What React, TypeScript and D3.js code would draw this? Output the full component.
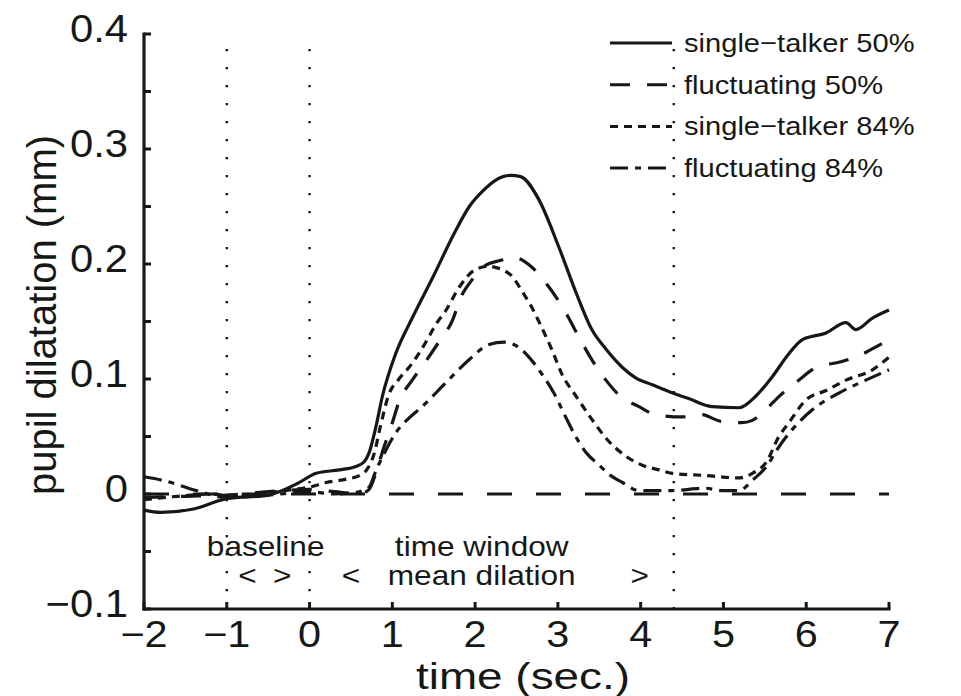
import React from 'react';
import * as d3 from 'd3';

// time (s), pupil dilation (mm)
const singleTalker50 = [
  [-2, -0.014], [-1.8, -0.016], [-1.4, -0.013], [-1, -0.004], [-0.5, -0.001], [-0.15, 0.009],
  [0.08, 0.018], [0.36, 0.021], [0.56, 0.024], [0.66, 0.028], [0.72, 0.036], [0.8, 0.058],
  [0.88, 0.085], [1.04, 0.122], [1.24, 0.153], [1.5, 0.19], [1.75, 0.227], [1.93, 0.25],
  [2.1, 0.264], [2.25, 0.273], [2.43, 0.277], [2.55, 0.276], [2.77, 0.256], [3.01, 0.215],
  [3.22, 0.175], [3.41, 0.143], [3.58, 0.126], [3.78, 0.11], [3.94, 0.101], [4.14, 0.095],
  [4.38, 0.088], [4.58, 0.083], [4.86, 0.076], [5.19, 0.075], [5.39, 0.085], [5.59, 0.102],
  [5.79, 0.122], [5.95, 0.134], [6.24, 0.14], [6.48, 0.149], [6.6, 0.143], [6.8, 0.153], [7, 0.16]
];
const fluctuating50 = [
  [-2, -0.003], [-1.5, -0.002], [-1, -0.001], [-0.5, 0.002], [0, 0.004], [0.3, 0.002],
  [0.6, 0.0], [0.72, 0.004], [0.8, 0.018], [0.9, 0.041], [1.0, 0.062], [1.08, 0.08],
  [1.24, 0.099], [1.4, 0.115], [1.56, 0.132], [1.72, 0.15], [1.84, 0.173], [1.96, 0.186],
  [2.13, 0.199], [2.3, 0.203], [2.45, 0.206], [2.69, 0.197], [2.86, 0.183], [2.98, 0.171],
  [3.1, 0.157], [3.25, 0.137], [3.4, 0.118], [3.58, 0.099], [3.74, 0.086], [3.98, 0.076],
  [4.18, 0.069], [4.5, 0.067], [4.73, 0.069], [4.98, 0.063], [5.22, 0.062], [5.35, 0.064],
  [5.49, 0.072], [5.69, 0.086], [5.91, 0.099], [6.12, 0.11], [6.42, 0.115], [6.66, 0.121],
  [6.92, 0.131], [7, 0.134]
];
const singleTalker84 = [
  [-2, -0.005], [-1.6, -0.002], [-1.2, 0.0], [-1, -0.001], [-0.5, 0.001], [-0.2, 0.004],
  [0, 0.006], [0.2, 0.01], [0.45, 0.013], [0.6, 0.016], [0.7, 0.022], [0.78, 0.035],
  [0.86, 0.06], [0.95, 0.085], [1.08, 0.1], [1.2, 0.11], [1.32, 0.122], [1.42, 0.134],
  [1.53, 0.148], [1.65, 0.16], [1.81, 0.18], [2.0, 0.195], [2.17, 0.198], [2.29, 0.196],
  [2.45, 0.189], [2.57, 0.176], [2.68, 0.163], [2.77, 0.15], [2.93, 0.125], [3.05, 0.104],
  [3.22, 0.085], [3.4, 0.066], [3.6, 0.047], [3.8, 0.034], [4.02, 0.025], [4.22, 0.021],
  [4.38, 0.018], [4.8, 0.016], [5.19, 0.014], [5.35, 0.018], [5.52, 0.028], [5.67, 0.05],
  [5.79, 0.062], [6.0, 0.082], [6.24, 0.09], [6.48, 0.099], [6.8, 0.108], [7, 0.119]
];
const fluctuating84 = [
  [-2, 0.015], [-1.78, 0.012], [-1.37, 0.003], [-1, -0.003], [-0.5, -0.001], [0, 0.002],
  [0.3, 0.0], [0.6, 0.002], [0.72, 0.006], [0.8, 0.02], [0.9, 0.035], [1.04, 0.053],
  [1.2, 0.066], [1.36, 0.076], [1.65, 0.097], [1.93, 0.117], [2.17, 0.13], [2.35, 0.132],
  [2.57, 0.125], [2.65, 0.119], [2.8, 0.105], [2.95, 0.088], [3.1, 0.066], [3.2, 0.052],
  [3.34, 0.036], [3.5, 0.025], [3.62, 0.017], [3.78, 0.01], [3.98, 0.003], [4.38, 0.003],
  [4.78, 0.005], [4.98, 0.003], [5.19, 0.003], [5.35, 0.012], [5.52, 0.024], [5.67, 0.041],
  [5.83, 0.056], [6.07, 0.073], [6.4, 0.088], [6.72, 0.099], [7, 0.108]
];

const seriesNames = ['single\u2212talker 50%', 'fluctuating 50%', 'single\u2212talker 84%', 'fluctuating 84%'];
const seriesData = [singleTalker50, fluctuating50, singleTalker84, fluctuating84];
const dashes = ['none', '20,17', '8,6', '18,7,6,7'];

const xTicks = [-2, -1, 0, 1, 2, 3, 4, 5, 6, 7];
const yMinorTicks = [-0.1, -0.05, 0, 0.05, 0.1, 0.15, 0.2, 0.25, 0.3, 0.35, 0.4];
const yLabelTicks = [-0.1, 0, 0.1, 0.2, 0.3, 0.4];
const markerTimes = [-1, 0, 4.4];

const ink = '#161816';
const font = '"Liberation Sans", Arial, Helvetica, sans-serif';

export default function App() {
  const width = 961;
  const height = 696;
  const x = d3.scaleLinear().domain([-2, 7]).range([144, 889]);
  const y = d3.scaleLinear().domain([-0.1, 0.4]).range([609, 34]);

  const line = d3.line<number[]>()
    .x(d => x(d[0]))
    .y(d => y(d[1]))
    .curve(d3.curveMonotoneX);

  const fmtY = (v: number) => (v === 0 ? '0' : v < 0 ? '\u2212' + Math.abs(v).toFixed(1) : v.toFixed(1));
  const fmtX = (v: number) => (v < 0 ? '\u2212' + Math.abs(v) : String(v));

  const txt = (s: string, tx: number, ty: number, size: number, anchor: string, sx = 1.1) => (
    <text transform={`translate(${tx},${ty}) scale(${sx},1)`} fontSize={size} textAnchor={anchor}
          fontFamily={font} fill={ink}>{s}</text>
  );

  return (
    <svg width={width} height={height} style={{ position: 'absolute', left: 0, top: 0, background: '#fff' }}>
      <rect width={width} height={height} fill="#fff" />

      {/* dotted markers */}
      {markerTimes.map(t => (
        <line key={t} x1={x(t)} x2={x(t)} y1={y(0.387)} y2={y(-0.1)} stroke={ink}
              strokeWidth={2.4} strokeDasharray="2.4,15.6" />
      ))}

      {/* zero reference */}
      <line x1={x(-2)} x2={x(7)} y1={y(0)} y2={y(0)} stroke={ink} strokeWidth={3} strokeDasharray="25,24" />

      {seriesData.map((d, i) => (
        <path key={i} d={line(d) || ''} fill="none" stroke={ink} strokeWidth={3.2}
              strokeDasharray={dashes[i]} strokeLinejoin="round" />
      ))}

      {/* axes */}
      <line x1={x(-2)} x2={x(-2)} y1={y(0.4) - 1.5} y2={y(-0.1) + 1.5} stroke={ink} strokeWidth={3.2} />
      <line x1={x(-2) - 1.5} x2={x(7) + 1.5} y1={y(-0.1)} y2={y(-0.1)} stroke={ink} strokeWidth={3.2} />
      {yMinorTicks.map(v => (
        <line key={v} x1={x(-2)} x2={x(-2) + 7} y1={y(v)} y2={y(v)} stroke={ink} strokeWidth={3} />
      ))}
      {xTicks.map(t => (
        <line key={t} x1={x(t)} x2={x(t)} y1={y(-0.1)} y2={y(-0.1) - 7} stroke={ink} strokeWidth={3} />
      ))}
      {yLabelTicks.map(v => (
        <g key={v}>{txt(fmtY(v), 128, y(v) + 8, 38, 'end')}</g>
      ))}
      {xTicks.map(t => (
        <g key={t}>{txt(fmtX(t), x(t), 647, 37, 'middle', 1.12)}</g>
      ))}

      {txt('time (sec.)', 523, 689, 37, 'middle', 1.24)}
      <text transform={`translate(56,315) rotate(-90)`} fontSize={40} textAnchor="middle"
            fontFamily={font} fill={ink}>pupil dilatation (mm)</text>

      {/* window annotations */}
      {txt('baseline', x(-0.53), y(-0.054), 27, 'middle', 1.17)}
      {txt('<', x(-0.75), y(-0.079), 27, 'middle', 1.17)}
      {txt('>', x(-0.33), y(-0.079), 27, 'middle', 1.17)}
      {txt('<', x(0.5), y(-0.079), 27, 'middle', 1.17)}
      {txt('>', x(3.99), y(-0.079), 27, 'middle', 1.17)}
      {txt('time window', x(2.08), y(-0.054), 27, 'middle', 1.17)}
      {txt('mean dilation', x(2.08), y(-0.079), 27, 'middle', 1.17)}

      {/* legend */}
      {seriesNames.map((name, i) => {
        const ly = 43 + i * 41.7;
        return (
          <g key={name}>
            <line x1={610} x2={672} y1={ly} y2={ly} stroke={ink} strokeWidth={3} strokeDasharray={dashes[i]} />
            {txt(name, 684, ly + 9, 26, 'start', 1.12)}
          </g>
        );
      })}
    </svg>
  );
}
